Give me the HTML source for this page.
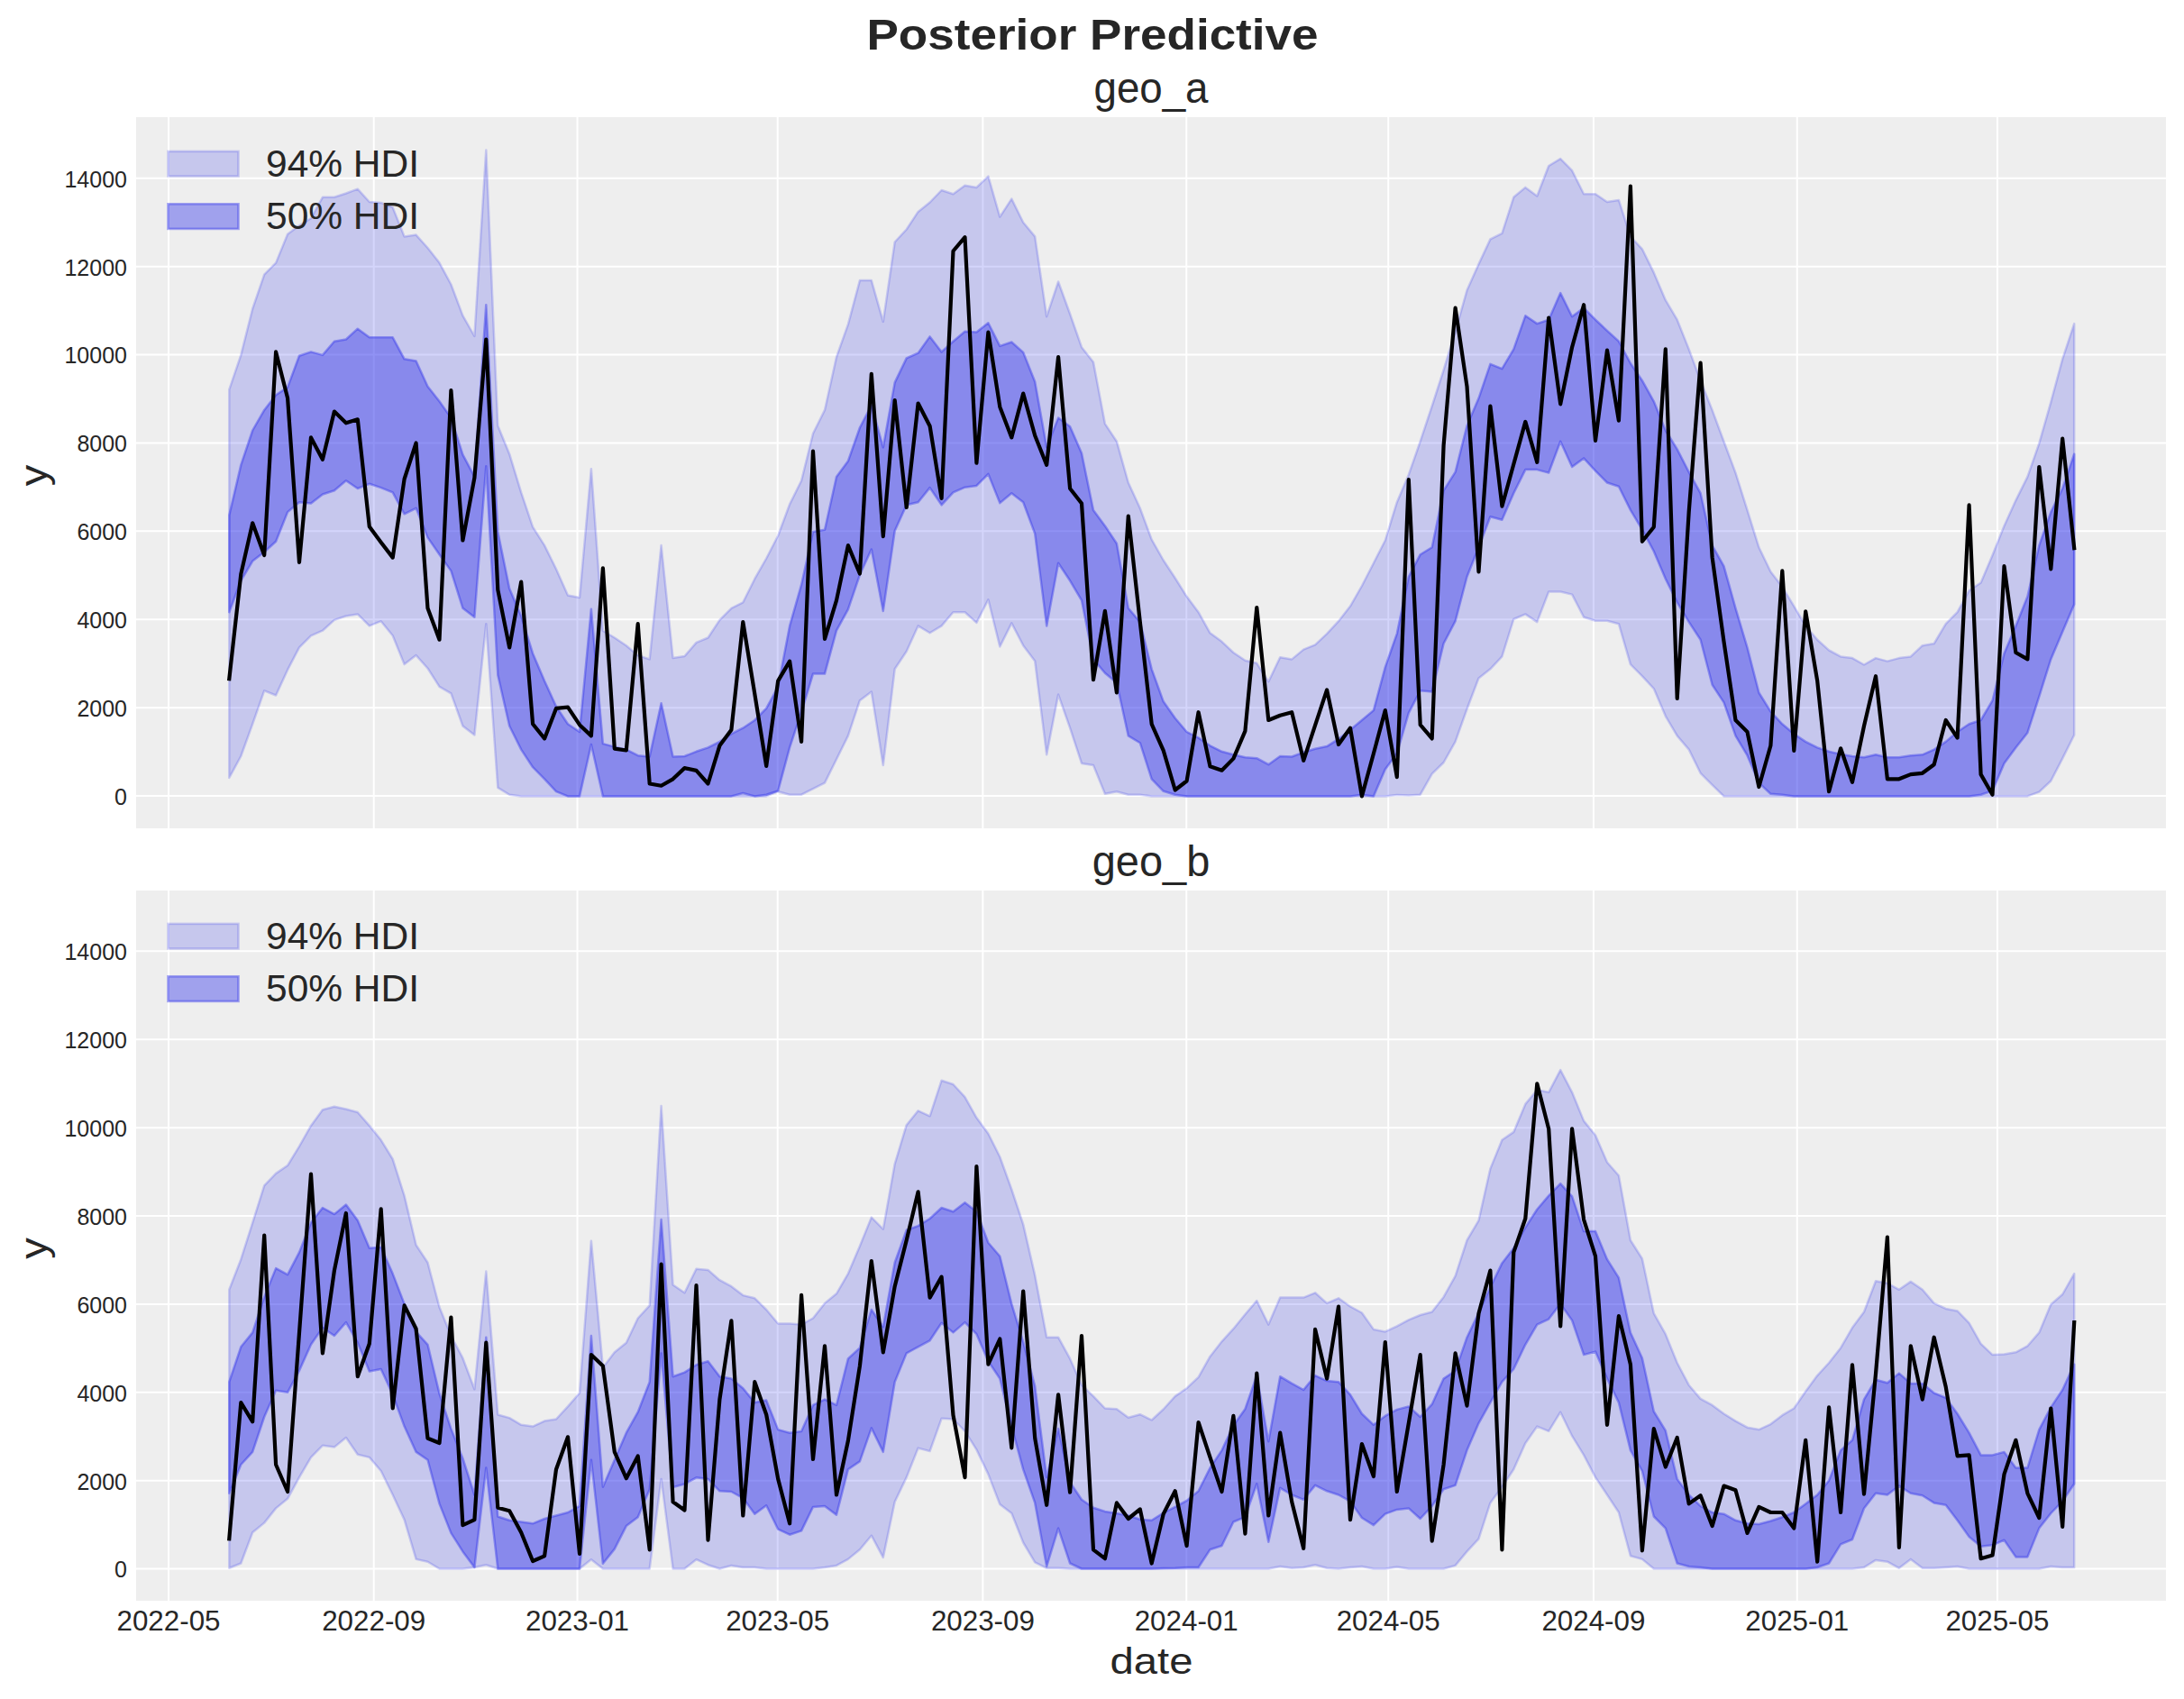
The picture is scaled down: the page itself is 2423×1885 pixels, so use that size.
<!DOCTYPE html><html><head><meta charset="utf-8"><style>html,body{margin:0;padding:0;background:#fff;}svg{display:block;}text{font-family:"Liberation Sans",sans-serif;fill:#262626;}</style></head><body>
<svg width="2423" height="1885" viewBox="0 0 2423 1885">
<rect x="0" y="0" width="2423" height="1885" fill="#ffffff"/>
<text x="1212" y="54.9" text-anchor="middle" font-size="48.3" font-weight="bold" textLength="501" lengthAdjust="spacingAndGlyphs">Posterior Predictive</text>
<rect x="151" y="130" width="2252" height="789" fill="#eeeeee"/>
<line x1="151" x2="2403" y1="883.05" y2="883.05" stroke="#ffffff" stroke-width="2"/>
<line x1="151" x2="2403" y1="785.16" y2="785.16" stroke="#ffffff" stroke-width="2"/>
<line x1="151" x2="2403" y1="687.27" y2="687.27" stroke="#ffffff" stroke-width="2"/>
<line x1="151" x2="2403" y1="589.37" y2="589.37" stroke="#ffffff" stroke-width="2"/>
<line x1="151" x2="2403" y1="491.48" y2="491.48" stroke="#ffffff" stroke-width="2"/>
<line x1="151" x2="2403" y1="393.59" y2="393.59" stroke="#ffffff" stroke-width="2"/>
<line x1="151" x2="2403" y1="295.70" y2="295.70" stroke="#ffffff" stroke-width="2"/>
<line x1="151" x2="2403" y1="197.81" y2="197.81" stroke="#ffffff" stroke-width="2"/>
<line x1="187.00" x2="187.00" y1="130" y2="919" stroke="#ffffff" stroke-width="2"/>
<line x1="414.70" x2="414.70" y1="130" y2="919" stroke="#ffffff" stroke-width="2"/>
<line x1="640.54" x2="640.54" y1="130" y2="919" stroke="#ffffff" stroke-width="2"/>
<line x1="862.68" x2="862.68" y1="130" y2="919" stroke="#ffffff" stroke-width="2"/>
<line x1="1090.38" x2="1090.38" y1="130" y2="919" stroke="#ffffff" stroke-width="2"/>
<line x1="1316.23" x2="1316.23" y1="130" y2="919" stroke="#ffffff" stroke-width="2"/>
<line x1="1540.22" x2="1540.22" y1="130" y2="919" stroke="#ffffff" stroke-width="2"/>
<line x1="1767.92" x2="1767.92" y1="130" y2="919" stroke="#ffffff" stroke-width="2"/>
<line x1="1993.76" x2="1993.76" y1="130" y2="919" stroke="#ffffff" stroke-width="2"/>
<line x1="2215.90" x2="2215.90" y1="130" y2="919" stroke="#ffffff" stroke-width="2"/>
<clipPath id="clipp1"><rect x="151" y="130" width="2252" height="789"/></clipPath>
<g clip-path="url(#clipp1)">
<polygon points="254.3,432.2 267.3,393.9 280.2,342.5 293.2,304.6 306.1,291.6 319.1,259.8 332.0,250.2 345.0,242.3 357.9,218.8 370.9,218.8 383.9,214.5 396.8,209.7 409.8,224.0 422.7,224.9 435.7,230.1 448.6,262.4 461.6,260.6 474.5,275.0 487.5,291.6 500.4,315.5 513.4,350.1 526.4,373.0 539.3,166.6 552.3,472.3 565.2,503.7 578.2,546.3 591.1,584.7 604.1,605.1 617.0,631.3 630.0,660.5 643.0,663.1 655.9,520.2 668.9,699.7 681.8,707.5 694.8,716.2 707.7,727.1 720.7,731.4 733.6,605.1 746.6,730.1 759.5,728.0 772.5,712.9 785.5,707.5 798.4,687.9 811.4,674.8 824.3,668.3 837.3,642.2 850.2,619.5 863.2,594.3 876.1,559.4 889.1,533.3 902.0,481.0 915.0,454.9 928.0,396.1 940.9,359.9 953.9,311.1 966.8,311.1 979.8,356.9 992.7,268.5 1005.7,254.5 1018.6,234.9 1031.6,224.5 1044.6,211.0 1057.5,215.3 1070.5,205.7 1083.4,207.9 1096.4,195.7 1109.3,240.6 1122.3,220.6 1135.2,246.7 1148.2,262.4 1161.2,351.2 1174.1,312.5 1187.1,348.2 1200.0,385.2 1213.0,401.7 1225.9,470.1 1238.9,489.7 1251.8,535.5 1264.8,563.8 1277.7,598.6 1290.7,621.5 1303.7,641.3 1316.6,661.8 1329.6,679.2 1342.5,702.3 1355.5,711.8 1368.4,724.0 1381.4,732.8 1394.3,735.8 1407.3,756.3 1420.2,729.3 1433.2,731.4 1446.2,720.6 1459.1,715.3 1472.1,703.1 1485.0,689.2 1498.0,672.6 1510.9,650.0 1523.9,624.7 1536.8,599.5 1549.8,557.2 1562.8,526.7 1575.7,489.7 1588.7,450.5 1601.6,410.5 1614.6,367.8 1627.5,322.0 1640.5,292.9 1653.4,265.4 1666.4,258.9 1679.3,218.8 1692.3,207.9 1705.3,217.5 1718.2,184.0 1731.2,176.1 1744.1,189.2 1757.1,215.3 1770.0,215.3 1783.0,224.0 1795.9,221.9 1808.9,262.4 1821.9,276.3 1834.8,302.4 1847.8,332.9 1860.7,354.7 1873.7,387.4 1886.6,422.2 1899.6,454.9 1912.5,489.7 1925.5,524.6 1938.5,565.9 1951.4,607.3 1964.4,634.3 1977.3,650.9 1990.3,672.6 2003.2,694.4 2016.2,709.7 2029.1,721.4 2042.1,728.4 2055.0,730.1 2068.0,737.5 2081.0,730.1 2093.9,733.6 2106.9,730.1 2119.8,728.4 2132.8,716.2 2145.7,714.0 2158.7,692.2 2171.6,679.2 2184.6,655.2 2197.6,646.5 2210.5,616.0 2223.5,583.4 2236.4,555.1 2249.4,528.9 2262.3,491.9 2275.3,446.2 2288.2,398.3 2301.2,359.1 2301.2,815.5 2288.2,841.6 2275.3,866.5 2262.3,878.7 2249.4,883.4 2236.4,883.4 2223.5,883.4 2210.5,883.4 2197.6,883.4 2184.6,883.4 2171.6,883.4 2158.7,883.4 2145.7,883.4 2132.8,883.4 2119.8,883.4 2106.9,883.4 2093.9,883.4 2081.0,883.4 2068.0,883.4 2055.0,883.4 2042.1,883.4 2029.1,883.4 2016.2,883.4 2003.2,883.4 1990.3,883.4 1977.3,883.4 1964.4,883.4 1951.4,883.4 1938.5,883.4 1925.5,883.4 1912.5,883.4 1899.6,870.8 1886.6,857.8 1873.7,831.6 1860.7,816.4 1847.8,794.6 1834.8,764.1 1821.9,750.2 1808.9,737.1 1795.9,692.2 1783.0,688.8 1770.0,688.8 1757.1,684.8 1744.1,659.6 1731.2,656.5 1718.2,656.5 1705.3,690.1 1692.3,681.4 1679.3,687.0 1666.4,728.4 1653.4,742.3 1640.5,752.4 1627.5,786.8 1614.6,822.9 1601.6,846.0 1588.7,858.6 1575.7,881.7 1562.8,882.6 1549.8,882.1 1536.8,883.4 1523.9,883.4 1510.9,883.4 1498.0,883.4 1485.0,883.4 1472.1,883.4 1459.1,883.4 1446.2,883.4 1433.2,883.4 1420.2,883.4 1407.3,883.4 1394.3,883.4 1381.4,883.4 1368.4,883.4 1355.5,883.4 1342.5,883.4 1329.6,883.4 1316.6,883.4 1303.7,883.4 1290.7,883.4 1277.7,883.4 1264.8,881.7 1251.8,881.7 1238.9,878.2 1225.9,880.8 1213.0,849.0 1200.0,846.9 1187.1,807.7 1174.1,770.6 1161.2,837.3 1148.2,733.6 1135.2,716.2 1122.3,691.4 1109.3,717.5 1096.4,665.2 1083.4,690.9 1070.5,679.2 1057.5,679.2 1044.6,694.4 1031.6,702.3 1018.6,694.4 1005.7,722.7 992.7,742.3 979.8,849.0 966.8,767.6 953.9,777.2 940.9,816.4 928.0,842.5 915.0,868.6 902.0,875.2 889.1,881.7 876.1,881.7 863.2,878.2 850.2,883.4 837.3,883.4 824.3,883.4 811.4,883.4 798.4,883.4 785.5,883.4 772.5,883.4 759.5,883.4 746.6,883.4 733.6,883.4 720.7,883.4 707.7,883.4 694.8,883.4 681.8,883.4 668.9,883.4 655.9,883.4 643.0,883.4 630.0,883.4 617.0,883.4 604.1,883.4 591.1,883.4 578.2,883.4 565.2,881.7 552.3,873.9 539.3,692.2 526.4,815.5 513.4,805.5 500.4,769.3 487.5,761.9 474.5,741.5 461.6,727.1 448.6,737.1 435.7,705.3 422.7,689.2 409.8,694.4 396.8,681.4 383.9,683.5 370.9,687.9 357.9,699.7 345.0,705.3 332.0,718.4 319.1,743.2 306.1,771.5 293.2,766.3 280.2,803.3 267.3,839.0 254.3,863.0" fill="#2a2eec" fill-opacity="0.2" stroke="#2a2eec" stroke-opacity="0.2" stroke-width="2.5" stroke-linejoin="round"/>
<polygon points="254.3,571.6 267.3,515.9 280.2,477.5 293.2,454.9 306.1,438.3 319.1,429.6 332.0,394.8 345.0,390.4 357.9,393.9 370.9,378.7 383.9,376.5 396.8,364.7 409.8,374.3 422.7,374.3 435.7,374.3 448.6,398.3 461.6,400.4 474.5,428.7 487.5,445.3 500.4,463.6 513.4,504.3 526.4,528.9 539.3,338.2 552.3,589.9 565.2,653.0 578.2,683.5 591.1,724.9 604.1,755.4 617.0,783.7 630.0,803.3 643.0,812.0 655.9,675.7 668.9,825.1 681.8,828.6 694.8,831.6 707.7,838.2 720.7,839.5 733.6,780.2 746.6,839.5 759.5,839.0 772.5,833.8 785.5,829.4 798.4,822.9 811.4,814.2 824.3,807.7 837.3,799.0 850.2,785.9 863.2,761.9 876.1,694.4 889.1,648.7 902.0,589.9 915.0,587.7 928.0,528.9 940.9,511.5 953.9,474.5 966.8,449.7 979.8,496.3 992.7,424.4 1005.7,397.4 1018.6,391.7 1031.6,373.4 1044.6,390.4 1057.5,378.7 1070.5,367.8 1083.4,368.6 1096.4,358.2 1109.3,383.9 1122.3,379.5 1135.2,390.9 1148.2,423.5 1161.2,496.3 1174.1,463.6 1187.1,473.2 1200.0,502.8 1213.0,565.9 1225.9,583.4 1238.9,603.0 1251.8,674.8 1264.8,690.1 1277.7,742.3 1290.7,778.3 1303.7,796.8 1316.6,812.0 1329.6,818.6 1342.5,827.3 1355.5,833.8 1368.4,837.3 1381.4,840.3 1394.3,841.2 1407.3,848.2 1420.2,839.0 1433.2,839.5 1446.2,834.7 1459.1,830.7 1472.1,828.1 1485.0,819.9 1498.0,809.8 1510.9,799.0 1523.9,788.1 1536.8,740.2 1549.8,703.1 1562.8,640.0 1575.7,615.2 1588.7,607.3 1601.6,544.2 1614.6,523.7 1627.5,472.3 1640.5,441.8 1653.4,403.9 1666.4,409.1 1679.3,387.4 1692.3,350.3 1705.3,359.1 1718.2,354.7 1731.2,325.1 1744.1,351.2 1757.1,341.6 1770.0,354.7 1783.0,366.9 1795.9,378.7 1808.9,403.0 1821.9,422.2 1834.8,445.3 1847.8,477.5 1860.7,498.4 1873.7,523.7 1886.6,547.2 1899.6,605.1 1912.5,628.2 1925.5,674.8 1938.5,718.4 1951.4,768.5 1964.4,789.4 1977.3,803.3 1990.3,814.2 2003.2,822.9 2016.2,829.4 2029.1,833.8 2042.1,836.8 2055.0,839.0 2068.0,840.3 2081.0,837.3 2093.9,840.3 2106.9,840.3 2119.8,838.2 2132.8,837.3 2145.7,831.6 2158.7,822.9 2171.6,812.0 2184.6,803.3 2197.6,799.0 2210.5,777.2 2223.5,724.9 2236.4,694.4 2249.4,661.8 2262.3,605.1 2275.3,568.1 2288.2,542.0 2301.2,503.7 2301.2,670.5 2288.2,701.0 2275.3,731.4 2262.3,772.8 2249.4,812.9 2236.4,829.4 2223.5,846.9 2210.5,877.4 2197.6,881.7 2184.6,883.4 2171.6,883.4 2158.7,883.4 2145.7,883.4 2132.8,883.4 2119.8,883.4 2106.9,883.4 2093.9,883.4 2081.0,883.4 2068.0,883.4 2055.0,883.4 2042.1,883.4 2029.1,883.4 2016.2,883.4 2003.2,883.4 1990.3,883.4 1977.3,881.7 1964.4,880.8 1951.4,868.6 1938.5,838.2 1925.5,816.4 1912.5,779.4 1899.6,759.8 1886.6,709.7 1873.7,690.1 1860.7,668.3 1847.8,642.2 1834.8,611.7 1821.9,587.7 1808.9,565.9 1795.9,539.8 1783.0,535.5 1770.0,522.4 1757.1,508.4 1744.1,518.0 1731.2,489.7 1718.2,524.6 1705.3,521.1 1692.3,521.1 1679.3,547.2 1666.4,576.8 1653.4,573.3 1640.5,607.3 1627.5,640.0 1614.6,689.2 1601.6,714.0 1588.7,767.6 1575.7,766.3 1562.8,791.1 1549.8,836.0 1536.8,853.4 1523.9,883.4 1510.9,881.7 1498.0,883.4 1485.0,883.4 1472.1,883.4 1459.1,883.4 1446.2,883.4 1433.2,883.4 1420.2,883.4 1407.3,883.4 1394.3,883.4 1381.4,883.4 1368.4,883.4 1355.5,883.4 1342.5,883.4 1329.6,883.4 1316.6,883.4 1303.7,881.7 1290.7,877.8 1277.7,864.3 1264.8,824.2 1251.8,816.4 1238.9,757.6 1225.9,746.7 1213.0,731.4 1200.0,666.1 1187.1,644.3 1174.1,624.7 1161.2,694.4 1148.2,592.1 1135.2,557.2 1122.3,547.2 1109.3,558.1 1096.4,525.9 1083.4,538.9 1070.5,540.7 1057.5,546.3 1044.6,560.3 1031.6,541.1 1018.6,557.2 1005.7,560.3 992.7,589.0 979.8,677.9 966.8,609.5 953.9,637.8 940.9,676.1 928.0,699.7 915.0,747.6 902.0,747.6 889.1,790.2 876.1,829.4 863.2,877.4 850.2,881.7 837.3,883.4 824.3,880.0 811.4,883.4 798.4,883.4 785.5,883.4 772.5,883.4 759.5,883.4 746.6,883.4 733.6,883.4 720.7,883.4 707.7,883.4 694.8,883.4 681.8,883.4 668.9,883.4 655.9,826.0 643.0,883.4 630.0,883.4 617.0,878.2 604.1,864.3 591.1,851.2 578.2,831.6 565.2,805.5 552.3,748.9 539.3,517.2 526.4,684.8 513.4,674.8 500.4,633.4 487.5,615.2 474.5,596.4 461.6,563.8 448.6,570.3 435.7,546.3 422.7,541.1 409.8,536.8 396.8,542.0 383.9,533.3 370.9,544.2 357.9,548.5 345.0,558.5 332.0,557.2 319.1,568.1 306.1,600.8 293.2,612.5 280.2,622.6 267.3,644.3 254.3,679.2" fill="#2a2eec" fill-opacity="0.4" stroke="#2a2eec" stroke-opacity="0.4" stroke-width="2.5" stroke-linejoin="round"/>
<polyline points="254.3,753.2 267.3,636.9 280.2,580.3 293.2,616.0 306.1,390.4 319.1,441.8 332.0,623.9 345.0,485.4 357.9,509.8 370.9,456.6 383.9,469.3 396.8,465.3 409.8,584.2 422.7,601.7 435.7,618.6 448.6,531.5 461.6,491.5 474.5,674.8 487.5,709.7 500.4,433.1 513.4,599.5 526.4,530.2 539.3,376.5 552.3,654.4 565.2,718.4 578.2,645.6 591.1,803.3 604.1,819.4 617.0,785.9 630.0,784.6 643.0,804.2 655.9,816.4 668.9,630.4 681.8,830.7 694.8,832.5 707.7,692.2 720.7,869.5 733.6,871.7 746.6,864.3 759.5,852.1 772.5,854.9 785.5,869.5 798.4,827.3 811.4,809.8 824.3,690.1 837.3,769.8 850.2,849.9 863.2,755.4 876.1,733.6 889.1,822.9 902.0,500.6 915.0,708.8 928.0,666.1 940.9,605.1 953.9,636.5 966.8,414.8 979.8,595.1 992.7,444.0 1005.7,562.9 1018.6,447.5 1031.6,472.7 1044.6,552.9 1057.5,278.5 1070.5,263.2 1083.4,513.7 1096.4,368.6 1109.3,451.4 1122.3,485.4 1135.2,436.6 1148.2,483.2 1161.2,515.9 1174.1,396.1 1187.1,542.0 1200.0,558.5 1213.0,754.1 1225.9,677.9 1238.9,768.5 1251.8,572.5 1264.8,690.1 1277.7,803.3 1290.7,832.7 1303.7,876.5 1316.6,866.5 1329.6,790.2 1342.5,850.3 1355.5,854.7 1368.4,841.6 1381.4,811.1 1394.3,674.0 1407.3,799.0 1420.2,793.7 1433.2,790.2 1446.2,843.8 1459.1,804.6 1472.1,765.4 1485.0,826.0 1498.0,807.7 1510.9,883.4 1523.9,836.0 1536.8,788.1 1549.8,862.1 1562.8,532.0 1575.7,804.2 1588.7,819.4 1601.6,494.1 1614.6,341.6 1627.5,428.7 1640.5,634.3 1653.4,450.5 1666.4,561.6 1679.3,515.0 1692.3,467.9 1705.3,512.8 1718.2,352.5 1731.2,448.3 1744.1,385.2 1757.1,338.2 1770.0,488.9 1783.0,388.7 1795.9,466.6 1808.9,206.6 1821.9,600.8 1834.8,584.7 1847.8,387.4 1860.7,775.0 1873.7,568.1 1886.6,402.6 1899.6,618.2 1912.5,711.8 1925.5,799.0 1938.5,812.0 1951.4,873.0 1964.4,827.3 1977.3,633.4 1990.3,832.9 2003.2,678.3 2016.2,755.4 2029.1,878.2 2042.1,830.3 2055.0,867.8 2068.0,805.5 2081.0,750.2 2093.9,864.3 2106.9,864.3 2119.8,859.1 2132.8,857.8 2145.7,848.2 2158.7,799.0 2171.6,818.6 2184.6,560.3 2197.6,859.1 2210.5,881.7 2223.5,628.2 2236.4,724.0 2249.4,731.4 2262.3,518.0 2275.3,631.3 2288.2,486.7 2301.2,608.2" fill="none" stroke="#000000" stroke-width="4.2" stroke-linejoin="round" stroke-linecap="square"/>
</g>
<text x="141" y="892.8" text-anchor="end" font-size="25">0</text>
<text x="141" y="795.0" text-anchor="end" font-size="25">2000</text>
<text x="141" y="697.1" text-anchor="end" font-size="25">4000</text>
<text x="141" y="599.2" text-anchor="end" font-size="25">6000</text>
<text x="141" y="501.3" text-anchor="end" font-size="25">8000</text>
<text x="141" y="403.4" text-anchor="end" font-size="25">10000</text>
<text x="141" y="305.5" text-anchor="end" font-size="25">12000</text>
<text x="141" y="207.6" text-anchor="end" font-size="25">14000</text>
<text x="1277" y="114" text-anchor="middle" font-size="47.5" textLength="127" lengthAdjust="spacingAndGlyphs">geo_a</text>
<text transform="translate(51.5,527.5) rotate(-90)" x="0" y="0" text-anchor="middle" font-size="42" textLength="23.5" lengthAdjust="spacingAndGlyphs">y</text>
<rect x="186.5" y="167.9" width="78" height="27.6" fill="#2a2eec" fill-opacity="0.2" stroke="#2a2eec" stroke-opacity="0.2" stroke-width="2.6"/>
<text x="295" y="196.1" font-size="42" textLength="170" lengthAdjust="spacingAndGlyphs">94% HDI</text>
<rect x="186.5" y="226.3" width="78" height="27.6" fill="#2a2eec" fill-opacity="0.4" stroke="#2a2eec" stroke-opacity="0.4" stroke-width="2.6"/>
<text x="295" y="253.5" font-size="42" textLength="170" lengthAdjust="spacingAndGlyphs">50% HDI</text>
<rect x="151" y="988" width="2252" height="788" fill="#eeeeee"/>
<line x1="151" x2="2403" y1="1740.60" y2="1740.60" stroke="#ffffff" stroke-width="2"/>
<line x1="151" x2="2403" y1="1642.71" y2="1642.71" stroke="#ffffff" stroke-width="2"/>
<line x1="151" x2="2403" y1="1544.82" y2="1544.82" stroke="#ffffff" stroke-width="2"/>
<line x1="151" x2="2403" y1="1446.92" y2="1446.92" stroke="#ffffff" stroke-width="2"/>
<line x1="151" x2="2403" y1="1349.03" y2="1349.03" stroke="#ffffff" stroke-width="2"/>
<line x1="151" x2="2403" y1="1251.14" y2="1251.14" stroke="#ffffff" stroke-width="2"/>
<line x1="151" x2="2403" y1="1153.25" y2="1153.25" stroke="#ffffff" stroke-width="2"/>
<line x1="151" x2="2403" y1="1055.36" y2="1055.36" stroke="#ffffff" stroke-width="2"/>
<line x1="187.00" x2="187.00" y1="988" y2="1776" stroke="#ffffff" stroke-width="2"/>
<line x1="414.70" x2="414.70" y1="988" y2="1776" stroke="#ffffff" stroke-width="2"/>
<line x1="640.54" x2="640.54" y1="988" y2="1776" stroke="#ffffff" stroke-width="2"/>
<line x1="862.68" x2="862.68" y1="988" y2="1776" stroke="#ffffff" stroke-width="2"/>
<line x1="1090.38" x2="1090.38" y1="988" y2="1776" stroke="#ffffff" stroke-width="2"/>
<line x1="1316.23" x2="1316.23" y1="988" y2="1776" stroke="#ffffff" stroke-width="2"/>
<line x1="1540.22" x2="1540.22" y1="988" y2="1776" stroke="#ffffff" stroke-width="2"/>
<line x1="1767.92" x2="1767.92" y1="988" y2="1776" stroke="#ffffff" stroke-width="2"/>
<line x1="1993.76" x2="1993.76" y1="988" y2="1776" stroke="#ffffff" stroke-width="2"/>
<line x1="2215.90" x2="2215.90" y1="988" y2="1776" stroke="#ffffff" stroke-width="2"/>
<clipPath id="clipp2"><rect x="151" y="988" width="2252" height="788"/></clipPath>
<g clip-path="url(#clipp2)">
<polygon points="254.3,1430.8 267.3,1397.2 280.2,1356.6 293.2,1315.3 306.1,1301.9 319.1,1293.0 332.0,1271.8 345.0,1248.9 357.9,1231.2 370.9,1227.7 383.9,1230.5 396.8,1234.0 409.8,1248.9 422.7,1264.8 435.7,1286.0 448.6,1326.6 461.6,1381.3 474.5,1400.7 487.5,1450.2 500.4,1482.0 513.4,1506.7 526.4,1541.3 539.3,1410.6 552.3,1569.5 565.2,1573.1 578.2,1580.8 591.1,1582.6 604.1,1576.6 617.0,1574.5 630.0,1560.4 643.0,1545.5 655.9,1376.7 668.9,1517.3 681.8,1500.3 694.8,1489.7 707.7,1462.5 720.7,1448.4 733.6,1227.0 746.6,1425.5 759.5,1434.3 772.5,1407.8 785.5,1408.9 798.4,1420.2 811.4,1427.2 824.3,1437.1 837.3,1440.3 850.2,1453.0 863.2,1468.5 876.1,1468.5 889.1,1469.6 902.0,1462.5 915.0,1445.9 928.0,1435.3 940.9,1413.1 953.9,1382.4 966.8,1350.6 979.8,1363.7 992.7,1291.3 1005.7,1248.2 1018.6,1232.3 1031.6,1238.3 1044.6,1198.7 1057.5,1203.0 1070.5,1217.1 1083.4,1240.1 1096.4,1257.7 1109.3,1283.5 1122.3,1319.5 1135.2,1358.4 1148.2,1414.9 1161.2,1483.7 1174.1,1483.7 1187.1,1507.4 1200.0,1536.7 1213.0,1549.1 1225.9,1562.5 1238.9,1563.2 1251.8,1572.7 1264.8,1569.2 1277.7,1575.5 1290.7,1563.5 1303.7,1549.1 1316.6,1540.2 1329.6,1527.9 1342.5,1504.9 1355.5,1488.3 1368.4,1474.2 1381.4,1458.3 1394.3,1443.1 1407.3,1469.6 1420.2,1439.6 1433.2,1439.6 1446.2,1439.6 1459.1,1434.3 1472.1,1445.9 1485.0,1440.3 1498.0,1449.5 1510.9,1456.5 1523.9,1474.9 1536.8,1477.4 1549.8,1471.4 1562.8,1464.3 1575.7,1459.0 1588.7,1455.5 1601.6,1438.9 1614.6,1415.6 1627.5,1376.0 1640.5,1354.1 1653.4,1296.6 1666.4,1264.8 1679.3,1255.9 1692.3,1224.9 1705.3,1209.3 1718.2,1211.8 1731.2,1187.1 1744.1,1211.8 1757.1,1243.6 1770.0,1259.5 1783.0,1289.5 1795.9,1304.3 1808.9,1376.0 1821.9,1396.5 1834.8,1457.2 1847.8,1480.2 1860.7,1512.0 1873.7,1536.7 1886.6,1551.9 1899.6,1558.9 1912.5,1568.5 1925.5,1576.6 1938.5,1583.7 1951.4,1586.1 1964.4,1580.1 1977.3,1570.2 1990.3,1562.5 2003.2,1543.8 2016.2,1526.1 2029.1,1512.0 2042.1,1495.4 2055.0,1473.1 2068.0,1455.5 2081.0,1421.2 2093.9,1423.7 2106.9,1430.8 2119.8,1421.9 2132.8,1430.8 2145.7,1445.9 2158.7,1451.9 2171.6,1454.4 2184.6,1467.8 2197.6,1490.8 2210.5,1503.1 2223.5,1502.4 2236.4,1500.3 2249.4,1493.3 2262.3,1478.4 2275.3,1447.3 2288.2,1436.0 2301.2,1413.1 2301.2,1739.0 2288.2,1739.0 2275.3,1738.0 2262.3,1740.5 2249.4,1740.5 2236.4,1740.5 2223.5,1740.5 2210.5,1740.5 2197.6,1740.5 2184.6,1740.5 2171.6,1738.0 2158.7,1739.0 2145.7,1739.8 2132.8,1739.8 2119.8,1729.9 2106.9,1739.8 2093.9,1732.7 2081.0,1730.9 2068.0,1739.0 2055.0,1740.5 2042.1,1740.5 2029.1,1740.5 2016.2,1740.5 2003.2,1740.5 1990.3,1740.5 1977.3,1740.5 1964.4,1740.5 1951.4,1740.5 1938.5,1740.5 1925.5,1740.5 1912.5,1740.5 1899.6,1740.5 1886.6,1740.5 1873.7,1740.5 1860.7,1740.5 1847.8,1740.5 1834.8,1740.5 1821.9,1729.9 1808.9,1726.3 1795.9,1678.0 1783.0,1658.5 1770.0,1639.1 1757.1,1614.4 1744.1,1593.2 1731.2,1566.7 1718.2,1587.9 1705.3,1582.6 1692.3,1601.3 1679.3,1630.3 1666.4,1649.7 1653.4,1667.4 1640.5,1707.3 1627.5,1721.4 1614.6,1736.9 1601.6,1740.5 1588.7,1740.5 1575.7,1740.5 1562.8,1740.5 1549.8,1738.5 1536.8,1740.5 1523.9,1740.5 1510.9,1738.0 1498.0,1739.0 1485.0,1740.5 1472.1,1739.8 1459.1,1736.2 1446.2,1739.0 1433.2,1739.8 1420.2,1738.0 1407.3,1740.5 1394.3,1740.5 1381.4,1740.5 1368.4,1740.5 1355.5,1740.5 1342.5,1740.5 1329.6,1740.5 1316.6,1740.5 1303.7,1740.5 1290.7,1740.5 1277.7,1740.5 1264.8,1740.5 1251.8,1740.5 1238.9,1740.5 1225.9,1740.5 1213.0,1740.5 1200.0,1740.5 1187.1,1740.5 1174.1,1739.8 1161.2,1739.8 1148.2,1733.4 1135.2,1711.5 1122.3,1679.0 1109.3,1669.1 1096.4,1635.6 1083.4,1608.4 1070.5,1587.9 1057.5,1574.5 1044.6,1573.8 1031.6,1610.1 1018.6,1606.6 1005.7,1639.1 992.7,1666.3 979.8,1728.1 966.8,1703.7 953.9,1719.3 940.9,1729.9 928.0,1736.9 915.0,1739.0 902.0,1740.5 889.1,1740.5 876.1,1740.5 863.2,1740.5 850.2,1740.5 837.3,1739.0 824.3,1739.0 811.4,1736.9 798.4,1740.5 785.5,1736.2 772.5,1730.2 759.5,1740.5 746.6,1740.5 733.6,1640.9 720.7,1740.5 707.7,1740.5 694.8,1740.5 681.8,1740.5 668.9,1740.5 655.9,1730.2 643.0,1740.5 630.0,1740.5 617.0,1740.5 604.1,1740.5 591.1,1740.5 578.2,1740.5 565.2,1740.5 552.3,1740.5 539.3,1736.2 526.4,1739.0 513.4,1740.5 500.4,1740.5 487.5,1740.5 474.5,1732.7 461.6,1729.9 448.6,1686.1 435.7,1658.5 422.7,1632.0 409.8,1616.9 396.8,1613.7 383.9,1595.0 370.9,1605.6 357.9,1603.8 345.0,1616.9 332.0,1639.1 319.1,1662.8 306.1,1673.4 293.2,1689.6 280.2,1700.2 267.3,1734.5 254.3,1739.8" fill="#2a2eec" fill-opacity="0.2" stroke="#2a2eec" stroke-opacity="0.2" stroke-width="2.5" stroke-linejoin="round"/>
<polygon points="254.3,1533.2 267.3,1494.3 280.2,1478.4 293.2,1438.9 306.1,1407.1 319.1,1414.2 332.0,1389.4 345.0,1356.6 357.9,1340.0 370.9,1347.1 383.9,1336.5 396.8,1354.1 409.8,1384.8 422.7,1383.8 435.7,1413.1 448.6,1446.6 461.6,1477.7 474.5,1491.8 487.5,1546.2 500.4,1585.1 513.4,1617.9 526.4,1658.5 539.3,1483.7 552.3,1682.5 565.2,1686.8 578.2,1688.5 591.1,1690.3 604.1,1685.0 617.0,1681.5 630.0,1678.0 643.0,1670.9 655.9,1482.0 668.9,1649.7 681.8,1619.7 694.8,1589.7 707.7,1566.7 720.7,1533.2 733.6,1353.1 746.6,1527.2 759.5,1522.6 772.5,1514.3 785.5,1510.2 798.4,1527.2 811.4,1529.6 824.3,1540.2 837.3,1556.1 850.2,1553.6 863.2,1586.1 876.1,1589.7 889.1,1587.9 902.0,1558.9 915.0,1552.6 928.0,1558.9 940.9,1507.4 953.9,1495.4 966.8,1453.0 979.8,1472.1 992.7,1400.7 1005.7,1364.7 1018.6,1360.1 1031.6,1352.0 1044.6,1340.0 1057.5,1344.2 1070.5,1334.3 1083.4,1344.2 1096.4,1378.8 1109.3,1393.7 1122.3,1446.6 1135.2,1489.0 1148.2,1537.8 1161.2,1639.1 1174.1,1585.1 1187.1,1644.4 1200.0,1663.8 1213.0,1672.7 1225.9,1676.9 1238.9,1679.0 1251.8,1681.5 1264.8,1685.7 1277.7,1686.8 1290.7,1678.5 1303.7,1671.9 1316.6,1664.9 1329.6,1654.3 1342.5,1628.5 1355.5,1609.1 1368.4,1581.5 1381.4,1563.2 1394.3,1526.1 1407.3,1599.2 1420.2,1527.2 1433.2,1534.9 1446.2,1542.0 1459.1,1526.1 1472.1,1532.1 1485.0,1533.2 1498.0,1547.3 1510.9,1568.5 1523.9,1580.8 1536.8,1570.9 1549.8,1563.9 1562.8,1560.4 1575.7,1572.0 1588.7,1557.9 1601.6,1529.6 1614.6,1520.8 1627.5,1483.7 1640.5,1456.5 1653.4,1428.3 1666.4,1401.4 1679.3,1384.8 1692.3,1361.9 1705.3,1341.8 1718.2,1326.6 1731.2,1313.2 1744.1,1327.3 1757.1,1366.1 1770.0,1366.1 1783.0,1397.2 1795.9,1417.7 1808.9,1478.4 1821.9,1506.7 1834.8,1566.0 1847.8,1587.2 1860.7,1640.9 1873.7,1658.5 1886.6,1670.9 1899.6,1678.0 1912.5,1679.7 1925.5,1686.8 1938.5,1690.3 1951.4,1691.0 1964.4,1687.5 1977.3,1683.2 1990.3,1678.0 2003.2,1668.4 2016.2,1658.5 2029.1,1642.6 2042.1,1609.1 2055.0,1597.8 2068.0,1552.6 2081.0,1530.7 2093.9,1534.2 2106.9,1523.6 2119.8,1534.9 2132.8,1534.9 2145.7,1545.5 2158.7,1550.8 2171.6,1568.5 2184.6,1589.7 2197.6,1614.4 2210.5,1614.4 2223.5,1610.9 2236.4,1628.5 2249.4,1628.5 2262.3,1586.1 2275.3,1561.4 2288.2,1542.0 2301.2,1513.7 2301.2,1646.2 2288.2,1665.6 2275.3,1679.0 2262.3,1695.6 2249.4,1727.4 2236.4,1727.4 2223.5,1708.7 2210.5,1714.3 2197.6,1715.7 2184.6,1705.1 2171.6,1686.8 2158.7,1669.8 2145.7,1667.4 2132.8,1659.2 2119.8,1656.8 2106.9,1648.6 2093.9,1658.5 2081.0,1656.8 2068.0,1673.5 2055.0,1708.0 2042.1,1713.3 2029.1,1734.5 2016.2,1739.0 2003.2,1740.5 1990.3,1740.5 1977.3,1740.5 1964.4,1740.5 1951.4,1740.5 1938.5,1740.5 1925.5,1740.5 1912.5,1740.5 1899.6,1740.5 1886.6,1739.0 1873.7,1738.0 1860.7,1734.5 1847.8,1695.6 1834.8,1682.5 1821.9,1632.0 1808.9,1609.1 1795.9,1556.1 1783.0,1529.6 1770.0,1499.6 1757.1,1503.1 1744.1,1465.0 1731.2,1446.6 1718.2,1463.6 1705.3,1469.6 1692.3,1491.8 1679.3,1519.0 1666.4,1533.2 1653.4,1556.1 1640.5,1579.1 1627.5,1609.1 1614.6,1647.9 1601.6,1652.2 1588.7,1670.9 1575.7,1685.0 1562.8,1673.4 1549.8,1674.9 1536.8,1679.7 1523.9,1692.1 1510.9,1684.0 1498.0,1665.6 1485.0,1658.5 1472.1,1654.3 1459.1,1647.9 1446.2,1663.8 1433.2,1658.5 1420.2,1650.8 1407.3,1710.8 1394.3,1646.2 1381.4,1683.2 1368.4,1688.5 1355.5,1715.0 1342.5,1719.3 1329.6,1739.0 1316.6,1739.0 1303.7,1739.8 1290.7,1740.1 1277.7,1740.5 1264.8,1740.5 1251.8,1740.5 1238.9,1740.5 1225.9,1740.5 1213.0,1740.5 1200.0,1740.5 1187.1,1734.5 1174.1,1695.6 1161.2,1738.0 1148.2,1667.4 1135.2,1630.3 1122.3,1582.6 1109.3,1529.6 1096.4,1510.2 1083.4,1480.2 1070.5,1467.1 1057.5,1478.4 1044.6,1467.8 1031.6,1487.3 1018.6,1494.3 1005.7,1501.4 992.7,1533.2 979.8,1610.9 966.8,1584.4 953.9,1621.4 940.9,1630.3 928.0,1680.8 915.0,1670.9 902.0,1671.9 889.1,1698.4 876.1,1702.7 863.2,1696.7 850.2,1670.2 837.3,1679.7 824.3,1662.1 811.4,1655.0 798.4,1654.3 785.5,1640.9 772.5,1639.3 759.5,1646.5 746.6,1650.1 733.6,1501.4 720.7,1652.5 707.7,1683.2 694.8,1693.1 681.8,1718.6 668.9,1734.8 655.9,1619.7 643.0,1740.5 630.0,1740.5 617.0,1740.5 604.1,1740.5 591.1,1740.5 578.2,1740.5 565.2,1740.5 552.3,1740.5 539.3,1628.5 526.4,1739.0 513.4,1721.4 500.4,1700.9 487.5,1668.4 474.5,1619.7 461.6,1610.9 448.6,1582.6 435.7,1547.3 422.7,1519.0 409.8,1521.5 396.8,1489.7 383.9,1467.1 370.9,1482.0 357.9,1473.1 345.0,1491.8 332.0,1520.8 319.1,1544.8 306.1,1542.7 293.2,1572.0 280.2,1610.9 267.3,1625.0 254.3,1656.8" fill="#2a2eec" fill-opacity="0.4" stroke="#2a2eec" stroke-opacity="0.4" stroke-width="2.5" stroke-linejoin="round"/>
<polyline points="254.3,1707.3 267.3,1556.1 280.2,1577.3 293.2,1370.7 306.1,1625.0 319.1,1655.0 332.0,1478.8 345.0,1302.6 357.9,1501.4 370.9,1409.6 383.9,1346.0 396.8,1527.2 409.8,1490.8 422.7,1341.4 435.7,1562.5 448.6,1448.4 461.6,1474.2 474.5,1595.7 487.5,1601.0 500.4,1461.5 513.4,1692.1 526.4,1686.1 539.3,1489.7 552.3,1672.7 565.2,1676.2 578.2,1700.2 591.1,1732.0 604.1,1726.3 617.0,1630.3 630.0,1594.3 643.0,1723.9 655.9,1503.1 668.9,1515.5 681.8,1610.9 694.8,1640.2 707.7,1615.4 720.7,1719.3 733.6,1402.5 746.6,1666.3 759.5,1675.5 772.5,1426.2 785.5,1708.7 798.4,1552.6 811.4,1465.4 824.3,1681.5 837.3,1533.2 850.2,1569.5 863.2,1640.9 876.1,1690.3 889.1,1436.8 902.0,1619.0 915.0,1493.3 928.0,1658.5 940.9,1598.5 953.9,1515.5 966.8,1399.0 979.8,1500.3 992.7,1427.2 1005.7,1376.0 1018.6,1322.3 1031.6,1439.6 1044.6,1416.6 1057.5,1570.2 1070.5,1639.1 1083.4,1294.1 1096.4,1513.7 1109.3,1485.5 1122.3,1606.3 1135.2,1432.5 1148.2,1595.7 1161.2,1669.8 1174.1,1547.3 1187.1,1655.7 1200.0,1482.0 1213.0,1719.3 1225.9,1729.2 1238.9,1667.4 1251.8,1685.0 1264.8,1674.4 1277.7,1734.5 1290.7,1679.7 1303.7,1654.3 1316.6,1715.0 1329.6,1578.0 1342.5,1616.9 1355.5,1655.0 1368.4,1570.9 1381.4,1701.6 1394.3,1523.6 1407.3,1681.5 1420.2,1589.7 1433.2,1666.3 1446.2,1717.9 1459.1,1474.9 1472.1,1529.6 1485.0,1449.5 1498.0,1686.1 1510.9,1602.0 1523.9,1638.0 1536.8,1489.0 1549.8,1655.0 1562.8,1579.1 1575.7,1503.1 1588.7,1709.7 1601.6,1625.0 1614.6,1501.4 1627.5,1559.6 1640.5,1457.2 1653.4,1409.6 1666.4,1719.3 1679.3,1389.4 1692.3,1352.0 1705.3,1202.3 1718.2,1252.4 1731.2,1471.4 1744.1,1252.4 1757.1,1353.1 1770.0,1393.7 1783.0,1580.8 1795.9,1460.1 1808.9,1513.7 1821.9,1720.3 1834.8,1585.1 1847.8,1627.5 1860.7,1595.0 1873.7,1668.4 1886.6,1659.2 1899.6,1693.1 1912.5,1648.6 1925.5,1653.2 1938.5,1700.9 1951.4,1671.9 1964.4,1678.0 1977.3,1678.0 1990.3,1695.6 2003.2,1597.8 2016.2,1732.7 2029.1,1561.4 2042.1,1678.0 2055.0,1514.4 2068.0,1657.6 2081.0,1524.3 2093.9,1372.5 2106.9,1716.8 2119.8,1493.3 2132.8,1552.6 2145.7,1483.7 2158.7,1538.5 2171.6,1615.4 2184.6,1614.4 2197.6,1729.2 2210.5,1725.6 2223.5,1635.6 2236.4,1597.8 2249.4,1656.8 2262.3,1684.0 2275.3,1562.5 2288.2,1693.8 2301.2,1467.1" fill="none" stroke="#000000" stroke-width="4.2" stroke-linejoin="round" stroke-linecap="square"/>
</g>
<text x="141" y="1750.4" text-anchor="end" font-size="25">0</text>
<text x="141" y="1652.5" text-anchor="end" font-size="25">2000</text>
<text x="141" y="1554.6" text-anchor="end" font-size="25">4000</text>
<text x="141" y="1456.7" text-anchor="end" font-size="25">6000</text>
<text x="141" y="1358.8" text-anchor="end" font-size="25">8000</text>
<text x="141" y="1260.9" text-anchor="end" font-size="25">10000</text>
<text x="141" y="1163.0" text-anchor="end" font-size="25">12000</text>
<text x="141" y="1065.2" text-anchor="end" font-size="25">14000</text>
<text x="1277" y="971.9" text-anchor="middle" font-size="47.5" textLength="130.5" lengthAdjust="spacingAndGlyphs">geo_b</text>
<text transform="translate(51.5,1385.0) rotate(-90)" x="0" y="0" text-anchor="middle" font-size="42" textLength="23.5" lengthAdjust="spacingAndGlyphs">y</text>
<rect x="186.5" y="1024.9" width="78" height="27.6" fill="#2a2eec" fill-opacity="0.2" stroke="#2a2eec" stroke-opacity="0.2" stroke-width="2.6"/>
<text x="295" y="1053.1" font-size="42" textLength="170" lengthAdjust="spacingAndGlyphs">94% HDI</text>
<rect x="186.5" y="1083.3" width="78" height="27.6" fill="#2a2eec" fill-opacity="0.4" stroke="#2a2eec" stroke-opacity="0.4" stroke-width="2.6"/>
<text x="295" y="1110.5" font-size="42" textLength="170" lengthAdjust="spacingAndGlyphs">50% HDI</text>
<text x="187.0" y="1809.3" text-anchor="middle" font-size="31" textLength="115" lengthAdjust="spacingAndGlyphs">2022-05</text>
<text x="414.7" y="1809.3" text-anchor="middle" font-size="31" textLength="115" lengthAdjust="spacingAndGlyphs">2022-09</text>
<text x="640.5" y="1809.3" text-anchor="middle" font-size="31" textLength="115" lengthAdjust="spacingAndGlyphs">2023-01</text>
<text x="862.7" y="1809.3" text-anchor="middle" font-size="31" textLength="115" lengthAdjust="spacingAndGlyphs">2023-05</text>
<text x="1090.4" y="1809.3" text-anchor="middle" font-size="31" textLength="115" lengthAdjust="spacingAndGlyphs">2023-09</text>
<text x="1316.2" y="1809.3" text-anchor="middle" font-size="31" textLength="115" lengthAdjust="spacingAndGlyphs">2024-01</text>
<text x="1540.2" y="1809.3" text-anchor="middle" font-size="31" textLength="115" lengthAdjust="spacingAndGlyphs">2024-05</text>
<text x="1767.9" y="1809.3" text-anchor="middle" font-size="31" textLength="115" lengthAdjust="spacingAndGlyphs">2024-09</text>
<text x="1993.8" y="1809.3" text-anchor="middle" font-size="31" textLength="115" lengthAdjust="spacingAndGlyphs">2025-01</text>
<text x="2215.9" y="1809.3" text-anchor="middle" font-size="31" textLength="115" lengthAdjust="spacingAndGlyphs">2025-05</text>
<text x="1277.5" y="1856.8" text-anchor="middle" font-size="41.5" textLength="92" lengthAdjust="spacingAndGlyphs">date</text>
</svg></body></html>
